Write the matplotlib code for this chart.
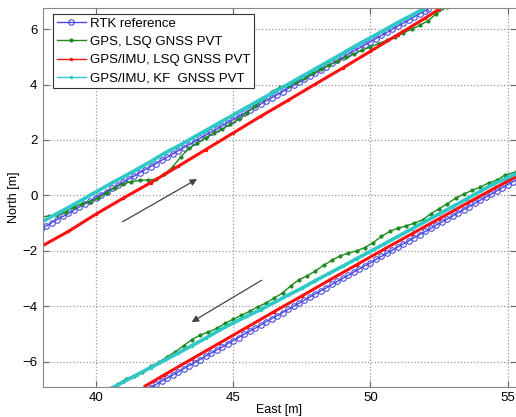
import matplotlib.pyplot as plt

plt.rcParams['font.family'] = ['Liberation Sans', 'DejaVu Sans']

# RTK reference, north-east leg and south-west leg
rtk_east_up = [38.0, 38.2, 38.4, 38.6, 38.8, 39.0, 39.2, 39.4, 39.6, 39.8,
               40.0, 40.2, 40.4, 40.6, 40.8, 41.0, 41.2, 41.4, 41.6, 41.8,
               42.0, 42.2, 42.4, 42.6, 42.8, 43.0, 43.2, 43.4, 43.6, 43.8,
               44.0, 44.2, 44.4, 44.6, 44.8, 45.0, 45.2, 45.4, 45.6, 45.8,
               46.0, 46.2, 46.4, 46.6, 46.8, 47.0, 47.2, 47.4, 47.6, 47.8,
               48.0, 48.2, 48.4, 48.6, 48.8, 49.0, 49.2, 49.4, 49.6, 49.8,
               50.0, 50.2, 50.4, 50.6, 50.8, 51.0, 51.2, 51.4, 51.6, 51.8,
               52.0, 52.1]
rtk_north_up = [-1.21, -1.10, -0.98, -0.87, -0.76, -0.65, -0.53, -0.42, -0.31, -0.20,
                -0.08, 0.03, 0.14, 0.25, 0.37, 0.48, 0.59, 0.70, 0.82, 0.93,
                1.04, 1.15, 1.27, 1.38, 1.49, 1.61, 1.72, 1.83, 1.94, 2.06,
                2.17, 2.28, 2.39, 2.51, 2.62, 2.73, 2.84, 2.96, 3.07, 3.18,
                3.29, 3.41, 3.52, 3.63, 3.74, 3.86, 3.97, 4.08, 4.19, 4.31,
                4.42, 4.53, 4.64, 4.76, 4.87, 4.98, 5.10, 5.21, 5.32, 5.43,
                5.55, 5.66, 5.77, 5.88, 6.00, 6.11, 6.22, 6.33, 6.45, 6.56,
                6.67, 6.72]
rtk_east_dn = [42.0, 42.2, 42.4, 42.6, 42.8, 43.0, 43.2, 43.4, 43.6, 43.8,
               44.0, 44.2, 44.4, 44.6, 44.8, 45.0, 45.2, 45.4, 45.6, 45.8,
               46.0, 46.2, 46.4, 46.6, 46.8, 47.0, 47.2, 47.4, 47.6, 47.8,
               48.0, 48.2, 48.4, 48.6, 48.8, 49.0, 49.2, 49.4, 49.6, 49.8,
               50.0, 50.2, 50.4, 50.6, 50.8, 51.0, 51.2, 51.4, 51.6, 51.8,
               52.0, 52.2, 52.4, 52.6, 52.8, 53.0, 53.2, 53.4, 53.6, 53.8,
               54.0, 54.2, 54.4, 54.6, 54.8, 55.0, 55.2, 55.4]
rtk_north_dn = [-6.93, -6.82, -6.70, -6.59, -6.48, -6.37, -6.25, -6.14, -6.03, -5.92,
                -5.80, -5.69, -5.58, -5.47, -5.35, -5.24, -5.13, -5.01, -4.90, -4.79,
                -4.68, -4.56, -4.45, -4.34, -4.23, -4.11, -4.00, -3.89, -3.78, -3.66,
                -3.55, -3.44, -3.33, -3.21, -3.10, -2.99, -2.88, -2.76, -2.65, -2.54,
                -2.43, -2.31, -2.20, -2.09, -1.97, -1.86, -1.75, -1.64, -1.52, -1.41,
                -1.30, -1.19, -1.07, -0.96, -0.85, -0.74, -0.62, -0.51, -0.40, -0.29,
                -0.17, -0.06, 0.05, 0.16, 0.28, 0.39, 0.50, 0.61]

# GPS, LSQ GNSS PVT
gps_east_up = [38.00, 38.30, 38.60, 38.90, 39.20, 39.50, 39.80, 40.10, 40.40, 40.70,
               41.00, 41.30, 41.60, 41.90, 42.20, 42.50, 42.80, 43.10, 43.40, 43.70,
               44.00, 44.30, 44.60, 44.90, 45.20, 45.50, 45.80, 46.10, 46.40, 46.70,
               47.00, 47.30, 47.60, 47.90, 48.20, 48.50, 48.80, 49.10, 49.40, 49.70,
               50.00, 50.30, 50.60, 50.90, 51.20, 51.50, 51.80, 52.10, 52.40, 52.80]
gps_north_up = [-0.78, -0.74, -0.72, -0.58, -0.42, -0.30, -0.22, -0.10, 0.10, 0.28,
                0.42, 0.50, 0.54, 0.56, 0.58, 0.78, 1.02, 1.40, 1.70, 1.90,
                2.08, 2.25, 2.40, 2.56, 2.76, 2.98, 3.22, 3.48, 3.74, 3.90,
                3.95, 4.08, 4.25, 4.40, 4.55, 4.70, 4.84, 4.98, 5.10, 5.24,
                5.36, 5.48, 5.60, 5.72, 5.86, 6.00, 6.14, 6.30, 6.56, 6.80]
gps_east_dn = [40.55, 40.80, 41.10, 41.40, 41.70, 42.00, 42.30, 42.60, 42.90, 43.20,
               43.50, 43.80, 44.10, 44.40, 44.70, 45.00, 45.30, 45.60, 45.90, 46.20,
               46.50, 46.80, 47.10, 47.40, 47.70, 48.00, 48.30, 48.60, 48.90, 49.20,
               49.50, 49.80, 50.10, 50.40, 50.70, 51.00, 51.30, 51.60, 51.90, 52.20,
               52.50, 52.80, 53.10, 53.40, 53.70, 54.00, 54.30, 54.60, 54.90, 55.30]
gps_north_dn = [-6.95, -6.80, -6.62, -6.50, -6.36, -6.17, -6.02, -5.82, -5.64, -5.42,
                -5.20, -5.04, -4.93, -4.80, -4.62, -4.47, -4.33, -4.18, -4.02, -3.88,
                -3.70, -3.52, -3.26, -3.04, -2.90, -2.72, -2.52, -2.34, -2.18, -2.08,
                -2.00, -1.88, -1.70, -1.48, -1.30, -1.18, -1.10, -1.00, -0.88, -0.66,
                -0.48, -0.30, -0.10, 0.05, 0.18, 0.30, 0.45, 0.55, 0.74, 0.85]

# GPS/IMU, LSQ GNSS PVT
lsq_east_up = [38.00, 39.00, 40.00, 41.00, 42.00, 43.00, 44.00, 45.00, 46.00, 47.00,
               48.00, 49.00, 50.00, 51.00, 52.00, 52.50]
lsq_north_up = [-1.85, -1.30, -0.68, -0.10, 0.46, 1.05, 1.65, 2.25, 2.85, 3.43,
                4.02, 4.60, 5.20, 5.80, 6.40, 6.72]
lsq_east_dn = [41.80, 42.50, 43.50, 44.50, 45.50, 46.50, 47.50, 48.50, 49.50, 50.50,
               51.50, 52.50, 53.50, 54.50, 55.30]
lsq_north_dn = [-6.88, -6.47, -5.90, -5.33, -4.76, -4.19, -3.63, -3.06, -2.50, -1.94,
                -1.39, -0.84, -0.29, 0.25, 0.68]

# GPS/IMU, KF GNSS PVT
kf_east_up = [38.00, 38.50, 39.00, 39.50, 40.00, 40.50, 41.00, 41.50, 42.00, 42.50,
              43.00, 43.50, 44.00, 44.50, 45.00, 45.50, 46.00, 46.50, 47.00, 47.50,
              48.00, 48.50, 49.00, 49.50, 50.00, 50.50, 51.00, 51.50, 52.00]
kf_north_up = [-0.98, -0.70, -0.44, -0.16, 0.12, 0.40, 0.67, 0.94, 1.22, 1.52,
               1.78, 2.06, 2.34, 2.62, 2.90, 3.18, 3.46, 3.73, 4.01, 4.29,
               4.57, 4.85, 5.13, 5.42, 5.69, 5.96, 6.24, 6.50, 6.76]
kf_east_dn = [40.60, 41.00, 41.50, 42.00, 42.50, 43.00, 43.50, 44.00, 44.50, 45.00,
              45.50, 46.00, 46.50, 47.00, 47.50, 48.00, 48.50, 49.00, 49.50, 50.00,
              50.50, 51.00, 51.50, 52.00, 52.50, 53.00, 53.50, 54.00, 54.50, 55.30]
kf_north_dn = [-6.95, -6.73, -6.47, -6.21, -5.95, -5.69, -5.42, -5.15, -4.86, -4.60,
               -4.36, -4.12, -3.86, -3.60, -3.35, -3.07, -2.81, -2.55, -2.28, -2.02,
               -1.75, -1.48, -1.21, -0.94, -0.67, -0.40, -0.13, 0.15, 0.42, 0.78]

labels = ["RTK reference", "GPS, LSQ GNSS PVT", "GPS/IMU, LSQ GNSS PVT",
          "GPS/IMU, KF  GNSS PVT"]

# driving direction arrows (tail, head)
arrow_up = [(40.98, -0.95), (43.69, 0.59)]
arrow_dn = [(46.04, -3.06), (43.49, -4.57)]

blue = "#4a4ae0"
green = "#1f8a1f"
red = "#ff1010"
cyan = "#2ec8c8"

fig = plt.figure(figsize=(5.16, 4.17), dpi=100)
ax = fig.add_axes([0.0833, 0.0727, 0.9167, 0.908])

for i, (xs, ys) in enumerate([(rtk_east_up, rtk_north_up), (rtk_east_dn, rtk_north_dn)]):
    ax.plot(xs, ys, color=blue, lw=1, marker="o", ms=4, mfc="none", mew=0.8,
            label=labels[0] if i == 0 else None)
for i, (xs, ys) in enumerate([(gps_east_up, gps_north_up), (gps_east_dn, gps_north_dn)]):
    ax.plot(xs, ys, color=green, lw=1, marker=".", ms=4,
            label=labels[1] if i == 0 else None)
for i, (xs, ys) in enumerate([(lsq_east_up, lsq_north_up), (lsq_east_dn, lsq_north_dn)]):
    ax.plot(xs, ys, color=red, lw=2.2, marker=".", ms=3,
            label=labels[2] if i == 0 else None)
for i, (xs, ys) in enumerate([(kf_east_up, kf_north_up), (kf_east_dn, kf_north_dn)]):
    ax.plot(xs, ys, color=cyan, lw=2.6, marker=".", ms=3,
            label=labels[3] if i == 0 else None)

for tail, head in [arrow_up, arrow_dn]:
    ax.annotate("", xy=head, xytext=tail,
                arrowprops=dict(arrowstyle="-|>", color="#444444", lw=0.9,
                                mutation_scale=10, shrinkA=0, shrinkB=0))

ax.set_xlim(38.08, 55.3)
ax.set_ylim(-6.9, 6.76)
ax.set_xticks([40, 45, 50, 55])
ax.set_yticks([-6, -4, -2, 0, 2, 4, 6])
ax.grid(True, linestyle=":", color="#999999", lw=0.9)
ax.tick_params(direction="in", top=True, right=True, labelsize=9.5,
               length=4, color="#666666", pad=4)
for side in ["left", "bottom", "top"]:
    ax.spines[side].set_color("#888888")
ax.spines["right"].set_visible(False)

ax.set_xlabel("East [m]", fontsize=9, labelpad=0)
ax.set_ylabel("North [m]", fontsize=9, labelpad=2)

leg = ax.legend(loc="upper left", bbox_to_anchor=(0.021, 0.985), fontsize=9.5,
                numpoints=1, labelspacing=0.45, handlelength=2.2, handletextpad=0.3,
                borderpad=0.3, fancybox=False, framealpha=1, borderaxespad=0)
leg.get_frame().set_edgecolor("#333333")
leg.get_frame().set_linewidth(0.8)
for line in leg.get_lines():
    line.set_linewidth(1)

fig.savefig("out.png", dpi=100)
